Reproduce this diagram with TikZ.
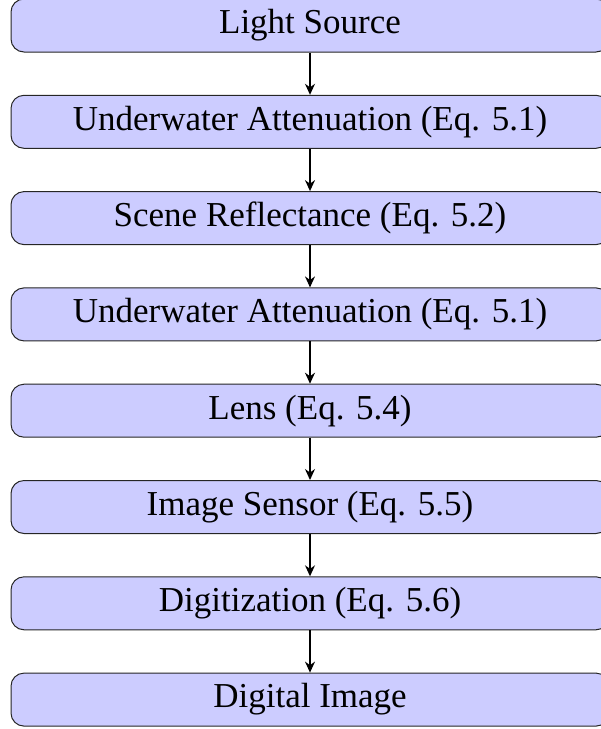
\documentclass[tikz,border=0pt]{standalone}
\usepackage{fontspec}
\setmainfont{Liberation Serif}
\usetikzlibrary{arrows.meta}
\begin{document}
\begin{tikzpicture}[x=1pt,y=1pt,
  stage/.style={draw=black!85, line width=1pt, fill=blue!20, rounded corners=13pt,
    minimum width=598pt, minimum height=53pt, inner sep=0pt,
    font=\fontsize{35}{42}\selectfont},
  flow/.style={-{Stealth[length=11pt,width=10pt]}, line width=1.4pt}]
\useasboundingbox (0,0) rectangle (601,-729);
\node[stage] (n0) at (310,-25.5) {Light Source};
\node[stage] (n1) at (310,-121.8) {Underwater Attenuation (Eq. 5.1)};
\node[stage] (n2) at (310,-218.1) {Scene Reflectance (Eq. 5.2)};
\node[stage] (n3) at (310,-314.4) {Underwater Attenuation (Eq. 5.1)};
\node[stage] (n4) at (310,-410.7) {Lens (Eq. 5.4)};
\node[stage] (n5) at (310,-507.0) {Image Sensor (Eq. 5.5)};
\node[stage] (n6) at (310,-603.3) {Digitization (Eq. 5.6)};
\node[stage] (n7) at (310,-699.6) {Digital Image};
\foreach \a/\b in {n0/n1,n1/n2,n2/n3,n3/n4,n4/n5,n5/n6,n6/n7}
  \draw[flow] (\a) -- (\b);
\end{tikzpicture}
\end{document}
